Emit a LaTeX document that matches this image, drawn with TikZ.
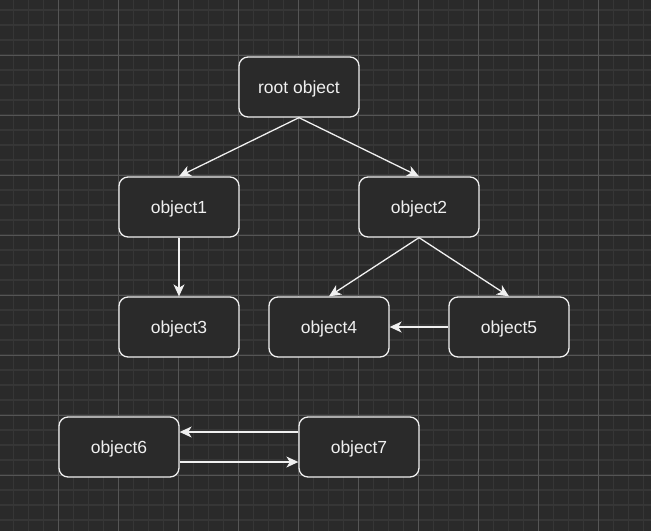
\documentclass[tikz,border=0pt]{standalone}
\usepackage{fontspec}
\setmainfont{Liberation Sans}
\usetikzlibrary{arrows.meta}
\definecolor{bgc}{HTML}{2A2A2A}
\definecolor{minorc}{HTML}{363636}
\definecolor{majorc}{HTML}{555555}
\definecolor{fgc}{HTML}{F0F0F0}
\tikzset{
  objbox/.style={draw=fgc, fill=bgc, line width=1.3pt, rounded corners=9pt,
    minimum width=120pt, minimum height=60pt, inner sep=0pt, text=fgc,
    text height=15.5pt, text depth=3pt,
    font=\fontsize{17.5}{20}\selectfont},
  arr/.style={draw=fgc, line width=1.3pt, -{Stealth[length=12pt,width=11pt,inset=3.5pt]}},
  minorline/.style={draw=minorc, line width=1.5pt},
  majorline/.style={draw=majorc, line width=1pt},
}
\begin{document}
\begin{tikzpicture}[x=1pt,y=-1pt]
\fill[bgc] (0,0) rectangle (651,531);
\useasboundingbox (0,0) rectangle (651,531);
% grid minor
\foreach \i in {0,...,42} {
  \pgfmathsetmacro{\gx}{13.3+15*\i}
  \draw[minorline] (\gx,0) -- (\gx,531);
}
\foreach \i in {0,...,35} {
  \pgfmathsetmacro{\gy}{10+15*\i}
  \draw[minorline] (0,\gy) -- (651,\gy);
}
% grid major
\foreach \i in {0,...,10} {
  \pgfmathsetmacro{\gx}{58.3+60*\i}
  \draw[majorline] (\gx,0) -- (\gx,531);
}
\foreach \i in {0,...,8} {
  \pgfmathsetmacro{\gy}{55+60*\i}
  \draw[majorline] (0,\gy) -- (651,\gy);
}
% nodes
\node[objbox] (root) at (299,87) {root object};
\node[objbox] (o1) at (179,207) {object1};
\node[objbox] (o2) at (419,207) {object2};
\node[objbox] (o3) at (179,327) {object3};
\node[objbox] (o4) at (329,327) {object4};
\node[objbox] (o5) at (509,327) {object5};
\node[objbox] (o6) at (119,447) {object6};
\node[objbox] (o7) at (359,447) {object7};
% edges
\draw[arr] (root.south) -- (o1.north);
\draw[arr] (root.south) -- (o2.north);
\draw[arr] (o1.south) -- (o3.north);
\draw[arr] (o2.south) -- (o4.north);
\draw[arr] (o2.south) -- (o5.north);
\draw[arr] (o5.west) -- (o4.east);
\draw[arr] ([yshift=15pt]o7.west) -- ([yshift=15pt]o6.east);
\draw[arr] ([yshift=-15pt]o6.east) -- ([yshift=-15pt]o7.west);
\end{tikzpicture}
\end{document}
